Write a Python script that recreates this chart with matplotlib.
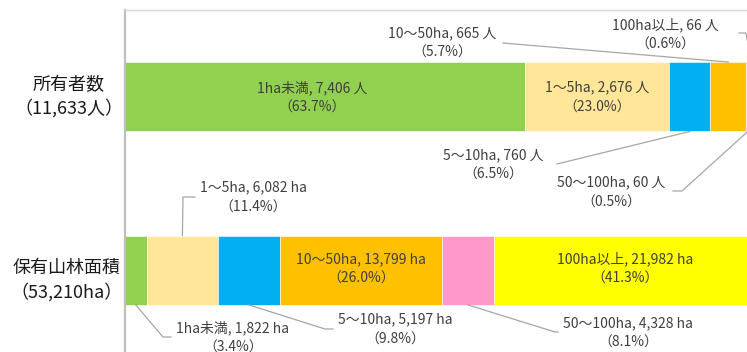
import matplotlib.pyplot as plt
from matplotlib.transforms import Affine2D
import numpy as np

plt.rcParams['font.family'] = ['Noto Sans CJK JP', 'DejaVu Sans']

classes = ['1ha未満', '1〜5ha', '5〜10ha', '10〜50ha', '50〜100ha', '100ha以上']
owners = [7406, 2676, 760, 665, 60, 66]
owner_pct = ['63.7', '23.0', '6.5', '5.7', '0.5', '0.6']
areas = [1822, 6082, 5197, 13799, 4328, 21982]
area_pct = ['3.4', '11.4', '9.8', '26.0', '8.1', '41.3']
row_titles = [('所有者数', '（11,633人）'), ('保有山林面積', '（53,210ha）')]
colors = ['#92D050', '#FFE699', '#00B0F0', '#FFC000', '#FF99CC', '#FFFF00']

W, H = 747, 352
fig = plt.figure(figsize=(W / 100, H / 100), dpi=100)
ax = fig.add_axes([125 / W, -5 / H, 628 / W, 347 / H])
ax.set_xlim(0, 100)
ax.set_ylim(-0.5, 1.5)
ax.set_xticks([])
ax.set_yticks([])
for s in ax.spines.values():
    s.set_color('#D9D9D9')
    s.set_linewidth(1)
ax.spines['left'].set_color('#BFBFBF')
ax.spines['left'].set_linewidth(1.6)

# pixel coordinates measured from the top-left corner
pix = Affine2D().scale(1, -1).translate(0, H)

bar_h = 0.4
rows = [
    (1, owners, owner_pct, ' 人'),
    (0, areas, area_pct, ' ha'),
]

# label centres (px) and leader paths (px, text side first)
label_pos = {
    1: {0: (312, 97.5), 1: (597, 97.5), 3: (442, 43), 5: (665, 35),
        2: (493, 165), 4: (611, 192.5)},
    0: {3: (361, 269), 5: (625, 269), 1: (253, 197.5), 0: (233, 337.5),
        2: (395, 329.5), 4: (628, 333)},
}
leaders = {
    1: {3: [(503, 43)], 5: [(739, 33), (746, 33)], 2: [(557, 164)],
        4: [(673, 191), (682, 191)]},
    0: {1: [(195, 197), (183, 197)], 0: [(171, 337), (163, 337)],
        2: [(333, 329), (325, 329)], 4: [(558, 332), (555, 332)]},
}

for y, vals, pcts, unit in rows:
    vals = np.array(vals, dtype=float)
    share = vals / vals.sum() * 100
    left = np.cumsum(share) - share
    ax.barh(y, share, left=left, height=bar_h, color=colors,
            edgecolor='white', linewidth=0.4)
    bar_mid = H - ax.transData.transform((0, y))[1]

    for i, cls in enumerate(classes):
        cx, cy = label_pos[y][i]
        ax.text(cx, cy - 10, f'{cls}, {int(vals[i]):,}{unit}', transform=pix,
                ha='center', va='center', fontsize=10, color='#404040')
        ax.text(cx, cy + 10, f'（{pcts[i]}%）', transform=pix,
                ha='center', va='center', fontsize=10, color='#404040')
        if i in leaders[y]:
            pts = list(leaders[y][i])
            # attach the leader to the segment edge facing the label
            edge = y + bar_h / 2 if cy < bar_mid else y - bar_h / 2
            mx, my = ax.transData.transform((left[i] + share[i] / 2, edge))
            pts.append((mx, H - my))
            xs, ys = zip(*pts)
            ax.plot(xs, ys, transform=pix, color='#A6A6A6', lw=0.9,
                    clip_on=False)

# row titles
for (t1, t2), (cx, y1, y2) in zip(row_titles, [(69, 85, 108.5), (67, 268, 292)]):
    fig.text(cx, y1, t1, transform=pix, ha='center', va='center',
             fontsize=13, color='#1A1A1A')
    fig.text(cx, y2, t2, transform=pix, ha='center', va='center',
             fontsize=13, color='#1A1A1A')

fig.savefig('out.png', dpi=100)
